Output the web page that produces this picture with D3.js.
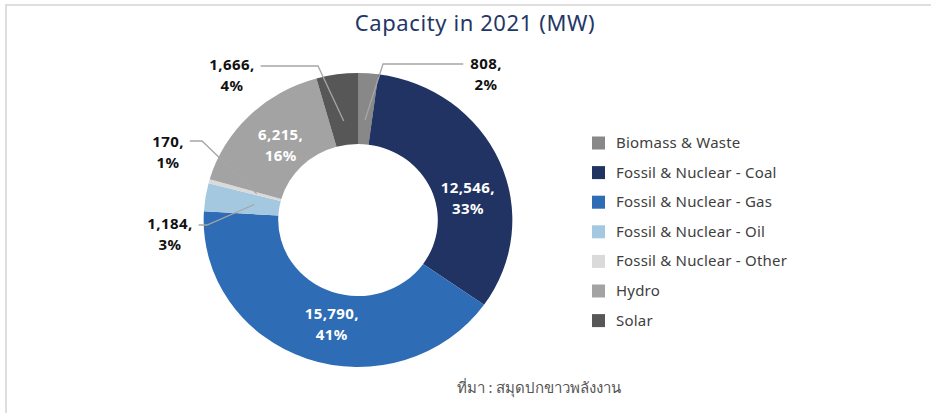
<!DOCTYPE html>
<html>
<head>
<meta charset="utf-8">
<script src="https://cdn.jsdelivr.net/npm/d3@7"></script>
<style>
  body { margin: 0; background: #fff; }
  svg { display: block; font-family: "Noto Sans", "Open Sans", sans-serif; }
</style>
</head>
<body>
<div id="chart"></div>
<script>
// data
var categories = ["Biomass & Waste", "Fossil & Nuclear - Coal", "Fossil & Nuclear - Gas",
  "Fossil & Nuclear - Oil", "Fossil & Nuclear - Other", "Hydro", "Solar"]
var capacity = [808, 12546, 15790, 1184, 170, 6215, 1666]
var percentText = ["2%", "33%", "41%", "3%", "1%", "16%", "4%"]
var colors = ["#888888", "#213363", "#2e6cb5", "#a5c8e1", "#dadada", "#a3a3a3", "#575757"]

// which labels sit inside the ring
var insideLabel = [false, true, true, false, false, true, false]

// label layout tweaks (relative to chart centre)
var nudge = {
  "Fossil & Nuclear - Coal": [4, 21],
  "Fossil & Nuclear - Gas": [12, -1],
  "Hydro": [4, 2]
}
var outer = {
  "Biomass & Waste": { elbow: [25, -156], text: [128, -156], side: 1 },
  "Solar": { elbow: [-40, -154], text: [-126, -155], side: -1 },
  "Fossil & Nuclear - Other": { elbow: [-156, -79], text: [-190, -78], side: -1 },
  "Fossil & Nuclear - Oil": { elbow: [-151, 5], text: [-188, 4], side: -1 }
}

var width = 931, height = 413
var cx = 358, cy = 220, rOuter = 147, rInner = 76
var sx = 1.05 // the ring is a bit wider than tall in the original

var svg = d3.select("#chart").append("svg")
  .attr("width", width)
  .attr("height", height)

// frame
svg.append("path")
  .attr("d", "M6,413 L6,5 L931,5")
  .attr("fill", "none")
  .attr("stroke", "#dedede")
  .attr("stroke-width", 2)

svg.append("text")
  .attr("x", 475)
  .attr("y", 31)
  .attr("text-anchor", "middle")
  .attr("fill", "#1f3766")
  .style("font-size", "22px")
  .style("letter-spacing", "0.6px")
  .text("Capacity in 2021 (MW)")

var data = categories.map(function(c, i) {
  return { name: c, value: capacity[i], pct: percentText[i], color: colors[i], inside: insideLabel[i] }
})

var pie = d3.pie().sort(null).value(function(d) { return d.value })
var arcs = pie(data)

var arc = d3.arc().innerRadius(rInner).outerRadius(rOuter)
var labelArc = d3.arc().innerRadius(110).outerRadius(110)
var leaderArc = d3.arc().innerRadius(100).outerRadius(100)

function stretch(p) { return [p[0] * sx, p[1]] }

var g = svg.append("g").attr("transform", "translate(" + cx + "," + cy + ")")

g.append("g")
  .attr("transform", "scale(" + sx + ",1)")
  .selectAll("path.slice")
  .data(arcs)
  .enter()
  .append("path")
  .attr("class", "slice")
  .attr("d", arc)
  .attr("fill", function(d) { return d.data.color })

function fmt(v) { return d3.format(",")(v) + "," }

// inside labels
var inner = g.selectAll("text.inner")
  .data(arcs.filter(function(d) { return d.data.inside }))
  .enter()
  .append("text")
  .attr("class", "inner")
  .attr("text-anchor", "middle")
  .attr("fill", "#fff")
  .style("font-size", "15px")
  .style("font-weight", "bold")
  .style("letter-spacing", "0.4px")
  .attr("transform", function(d) {
    var c = stretch(labelArc.centroid(d))
    var n = nudge[d.data.name] || [0, 0]
    return "translate(" + (c[0] + n[0]) + "," + (c[1] + n[1]) + ")"
  })
inner.append("tspan").attr("x", 0).attr("y", -4).text(function(d) { return fmt(d.data.value) })
inner.append("tspan").attr("x", 0).attr("y", 17).text(function(d) { return d.data.pct })

// outside labels with leader lines
var outs = arcs.filter(function(d) { return !d.data.inside })

var ot = g.selectAll("text.outer")
  .data(outs)
  .enter()
  .append("text")
  .attr("class", "outer")
  .attr("text-anchor", "middle")
  .attr("fill", "#111")
  .style("font-size", "15px")
  .style("font-weight", "bold")
  .style("letter-spacing", "0.4px")
  .attr("transform", function(d) {
    var o = outer[d.data.name]
    return "translate(" + o.text[0] + "," + o.text[1] + ")"
  })
ot.append("tspan").attr("x", 0).attr("y", 5).text(function(d) { return fmt(d.data.value) })
ot.append("tspan").attr("x", 0).attr("y", 26).text(function(d) { return d.data.pct })

ot.each(function(d) {
  var o = outer[d.data.name]
  var bb = this.getBBox()
  var endX = o.text[0] + (o.side > 0 ? bb.x - 7 : bb.x + bb.width + 6)
  var p = stretch(leaderArc.centroid(d))
  g.insert("polyline", "text")
    .attr("points", [p, o.elbow, [endX, o.elbow[1]]].map(function(q) { return q.join(",") }).join(" "))
    .attr("fill", "none")
    .attr("stroke", "#a6a6a6")
    .attr("stroke-width", 1.3)
})

// legend
var legend = svg.append("g").attr("transform", "translate(592,143)")
var rows = legend.selectAll("g")
  .data(data)
  .enter()
  .append("g")
  .attr("transform", function(d, i) { return "translate(0," + (i * 29.6) + ")" })
rows.append("rect")
  .attr("x", 0).attr("y", -6.5)
  .attr("width", 13).attr("height", 13)
  .attr("fill", function(d) { return d.color })
rows.append("text")
  .attr("x", 24).attr("y", 5)
  .attr("fill", "#404040")
  .style("font-size", "15px")
  .style("letter-spacing", "0.2px")
  .text(function(d) { return d.name })

svg.append("text")
  .attr("x", 539)
  .attr("y", 393)
  .attr("text-anchor", "middle")
  .attr("fill", "#555")
  .style("font-size", "15px")
  .text("ที่มา : สมุดปกขาวพลังงาน")
</script>
</body>
</html>
